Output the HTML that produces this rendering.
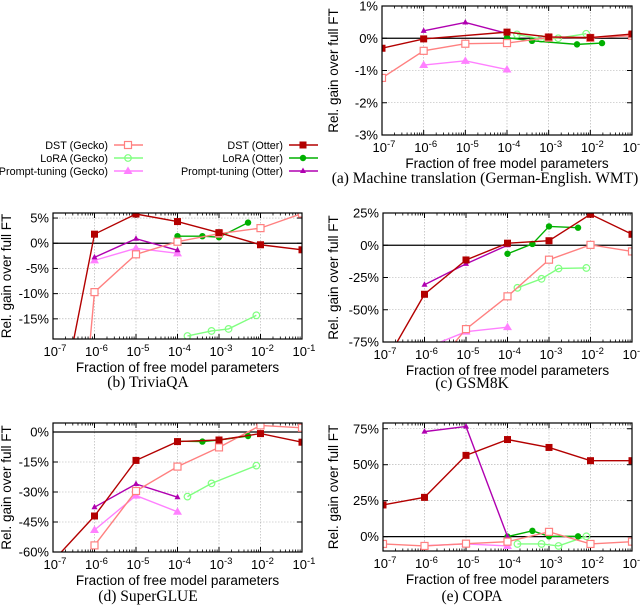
<!DOCTYPE html>
<html><head><meta charset="utf-8"><style>
body{margin:0;background:#fff;width:640px;height:610px;overflow:hidden}
svg{display:block}
text{font-family:"Liberation Sans",sans-serif}
.cap{font-family:"Liberation Serif",serif;font-size:15.5px}
</style></head><body>
<svg id="chart" width="640" height="610" viewBox="0 0 640 610" xmlns="http://www.w3.org/2000/svg">
<g id="legend"></g>
</svg>
<script>
// shared x positions (log10 of fraction)
const xDecades = [-7,-6,-5,-4,-3,-2,-1];
const xDst = [-7,-6,-5,-4,-3,-2,-1];
const xPrompt = [-6,-5,-4];
const xLoraGecko = [-3.76,-3.18,-2.77,-2.1];
const xLoraOtter = [-4,-3.4,-3,-2.3];
const xLoraOtterA = [-4,-3.4,-2.32,-1.72];

// (a) Machine translation
const aTicks = [1,0,-1,-2,-3];
const aDstOtter = [-0.31,-0.02,null,0.19,0.04,0.02,0.13];
const aDstGecko = [-1.23,-0.39,-0.17,-0.15,0.02,0.01,0.08];
const aLoraGecko = [0.12,-0.02,0.0,0.14];
const aLoraOtter = [0.02,-0.08,-0.19,-0.15];
const aPromptOtter = [0.23,0.49,0.15];
const aPromptGecko = [-0.83,-0.70,-0.97];

// (b) TriviaQA
const bTicks = [5,0,-5,-10,-15];
const bDstOtter = [-40,1.8,5.8,4.3,2.1,-0.3,-1.3];
const bDstGecko = [-100,-9.7,-2.2,0.3,1.9,3.0,5.9];
const bLoraOtter = [1.4,1.4,1.2,4.1];
const bLoraGecko = [-18.4,-17.4,-17.0,-14.3];
const bPromptOtter = [-2.8,0.9,-1.4];
const bPromptGecko = [-3.4,-1.0,-2.0];

// (c) GSM8K
const cTicks = [25,0,-25,-50,-75];
const cDstOtter = [-94,-38,-11.4,1.6,3.5,24,8.5];
const cDstGecko = [null,-103,-65,-39.6,-11.2,0.3,-4.8];
const cLoraOtter = [-6.6,1,14.6,13.6];
const cLoraGecko = [-33,-26,-18,-17.6];
const cPromptOtter = [-30.6,-14.4,0];
const cPromptGecko = [-80,-67,-63.5];

// (d) SuperGLUE
const dTicks = [0,-15,-30,-45,-60];
const dDstOtter = [-64.5,-42,-14.2,-4.8,-4.0,-0.8,-5.1];
const dDstGecko = [null,-56.7,-29.5,-17.3,-7.7,3.3,2.1];
const dLoraOtter = [-4.6,-4.8,-4.0,-2];
const dLoraGecko = [-32.3,-25.7,null,-16.8];
const dPromptOtter = [-37.6,-26,-32.6];
const dPromptGecko = [-49,-31.8,-39.9];

// (e) COPA
const eTicks = [75,50,25,0];
const eDstOtter = [22,27.3,56.5,67.5,62,52.8,52.8];
const eDstGecko = [-5.1,-6.5,-4.9,-3.5,3.3,-5.1,-3.5];
const eLoraOtter = [0,4,0.2,0.2];
const eLoraGecko = [-5.1,-5.1,-6.5,0.2];
const ePromptOtter = [73,76.6,0];
const ePromptGecko = [-6.3,-5.1,-6.5];

const NS="http://www.w3.org/2000/svg";
const svg=document.getElementById('chart');
function mk(tag,attrs,parent){const e=document.createElementNS(NS,tag);for(const k in attrs)e.setAttribute(k,attrs[k]);(parent||svg).appendChild(e);return e;}

const C={dstO:'#b30000',dstG:'#ff8080',loO:'#00b000',loG:'#80ff80',prO:'#b000b0',prG:'#ff80ff'};

function marker(g,kind,x,y,color){
  let e;
  if(kind==='sqF'){e=mk('rect',{x:x-3.5,y:y-3.5,width:7,height:7,fill:color},g);}
  else if(kind==='sqO'){e=mk('rect',{x:x-3.5,y:y-3.5,width:7,height:7,fill:'#fff',stroke:color,'stroke-width':1.2},g);}
  else if(kind==='ciF'){e=mk('circle',{cx:x,cy:y,r:3.2,fill:color},g);}
  else if(kind==='ciO'){e=mk('circle',{cx:x,cy:y,r:3.3,fill:'none',stroke:color,'stroke-width':1.2},g);}
  else if(kind==='trF'){e=mk('polygon',{points:`${x},${y-3.5} ${x-3},${y+2} ${x+3},${y+2}`,fill:color},g);}
  else {e=mk('polygon',{points:`${x},${y-4.5} ${x-4.5},${y+3} ${x+4.5},${y+3}`,fill:color},g);}
  
  
}

let pid=0;
function panel(p){
  pid++;
  const g=mk('g',{});
  
  
  const {x0,x1,y0,y1,ymin,ymax}=p;
  const X=v=>x0+(v-(-7))/6*(x1-x0);
  const Y=v=>y1-(v-ymin)/(ymax-ymin)*(y1-y0);
  xDecades.forEach(d=>{
    if(d>-7&&d<-1){const l=mk('line',{x1:X(d),x2:X(d),y1:y0,y2:y1,stroke:'#aaa','stroke-width':0.6,'stroke-dasharray':'1.5,1.5'},g);
    }
  });
  p.ticks.forEach(t=>{
    const yy=Y(t);
    if(t!==0&&yy>y0+1&&yy<y1-1){const l=mk('line',{x1:x0,x2:x1,y1:yy,y2:yy,stroke:'#aaa','stroke-width':0.6,'stroke-dasharray':'1.5,1.5'},g);
    }
    mk('line',{x1:x0,x2:x0+5,y1:yy,y2:yy,stroke:'#000','stroke-width':1},g);
    mk('line',{x1:x1,x2:x1-5,y1:yy,y2:yy,stroke:'#000','stroke-width':1},g);
    const tx=mk('text',{x:x0-4,y:yy+4.5,'font-size':13,'text-anchor':'end'},g);
    tx.textContent=t+'%';
    
  });
  xDecades.forEach(d=>{
    mk('line',{x1:X(d),x2:X(d),y1:y1,y2:y1-5,stroke:'#000','stroke-width':1},g);
    mk('line',{x1:X(d),x2:X(d),y1:y0,y2:y0+5,stroke:'#000','stroke-width':1},g);
    if(d<-1){for(let k=2;k<10;k++){const xm=X(d+Math.log10(k));
      mk('line',{x1:xm,x2:xm,y1:y1,y2:y1-2.5,stroke:'#000','stroke-width':0.8},g);
      mk('line',{x1:xm,x2:xm,y1:y0,y2:y0+2.5,stroke:'#000','stroke-width':0.8},g);}}
    const tx=mk('text',{x:X(d)+2,y:y1+17,'font-size':13,'text-anchor':'middle'},g);
    tx.innerHTML='10<tspan dy="-5" font-size="9.5">'+d+'</tspan>';
    
  });
  const z=mk('line',{x1:x0,x2:x1,y1:Y(0),y2:Y(0),stroke:'#000','stroke-width':1.2},g);
  
  const defs=mk('defs',{},g);
  const cp=mk('clipPath',{id:'cp'+pid},defs);
  mk('rect',{x:x0,y:y0,width:x1-x0,height:y1-y0},cp);
  const sg=mk('g',{'clip-path':`url(#cp${pid})`},g);
  
  const series=[
    [xLoraGecko,p.loG,C.loG,'ciO','lora-gecko'],
    [p.xLoO||xLoraOtter,p.loO,C.loO,'ciF','lora-otter'],
    [xPrompt,p.prG,C.prG,'trO','prompt-tuning-gecko'],
    [xPrompt,p.prO,C.prO,'trF','prompt-tuning-otter'],
    [xDst,p.dstG,C.dstG,'sqO','dst-gecko'],
    [xDst,p.dstO,C.dstO,'sqF','dst-otter'],
  ];
  series.forEach(([xs,ys,col,mkind,nm])=>{
    const s=mk('g',{},sg);
    
    const pts=[];xs.forEach((xv,i)=>{if(ys[i]!==null&&ys[i]!==undefined)pts.push([X(xv),Y(ys[i])]);});
    const pl=mk('polyline',{points:pts.map(q=>q.join(',')).join(' '),fill:'none',stroke:col,'stroke-width':1.4},s);
    
    pts.forEach(q=>marker(s,mkind,q[0],q[1],col));
  });
  const fr=mk('rect',{x:x0,y:y0,width:x1-x0,height:y1-y0,fill:'none',stroke:'#000','stroke-width':1.2},g);
  
  const yl=mk('text',{x:0,y:0,'font-size':13.5,'text-anchor':'middle',transform:`translate(${p.ylx},${(y0+y1)/2}) rotate(-90)`},g);
  yl.textContent='Rel. gain over full FT';
  
  const xl=mk('text',{x:(x0+x1)/2,y:y1+33,'font-size':13.5,'text-anchor':'middle'},g);
  xl.textContent='Fraction of free model parameters';
  
  const cap=mk('text',{x:p.capx,y:y1+p.capdy,'text-anchor':'middle','class':'cap'},g);
  cap.textContent=p.caption;
  
}

panel({name:'panel-machine-translation',x0:382,x1:632,y0:6,y1:135,ymin:-3,ymax:1,ticks:aTicks,
  dstO:aDstOtter,dstG:aDstGecko,loG:aLoraGecko,loO:aLoraOtter,xLoO:xLoraOtterA,prO:aPromptOtter,prG:aPromptGecko,
  ylx:338,capx:485,capdy:48,caption:'(a) Machine translation (German-English. WMT)'});
panel({name:'panel-triviaqa',x0:53,x1:302,y0:213,y1:339,ymin:-19,ymax:6,ticks:bTicks,
  dstO:bDstOtter,dstG:bDstGecko,loG:bLoraGecko,loO:bLoraOtter,prO:bPromptOtter,prG:bPromptGecko,
  ylx:11,capx:148,capdy:48,caption:'(b) TriviaQA'});
panel({name:'panel-gsm8k',x0:383,x1:632,y0:213,y1:342,ymin:-75,ymax:25,ticks:cTicks,
  dstO:cDstOtter,dstG:cDstGecko,loG:cLoraGecko,loO:cLoraOtter,prO:cPromptOtter,prG:cPromptGecko,
  ylx:338,capx:472,capdy:46,caption:'(c) GSM8K'});
panel({name:'panel-superglue',x0:53,x1:302,y0:423,y1:552,ymin:-60,ymax:4.5,ticks:dTicks,
  dstO:dDstOtter,dstG:dDstGecko,loG:dLoraGecko,loO:dLoraOtter,prO:dPromptOtter,prG:dPromptGecko,
  ylx:11,capx:148,capdy:49,caption:'(d) SuperGLUE'});
panel({name:'panel-copa',x0:383,x1:632,y0:423,y1:551,ymin:-10,ymax:79,ticks:eTicks,
  dstO:eDstOtter,dstG:eDstGecko,loG:eLoraGecko,loO:eLoraOtter,prO:ePromptOtter,prG:ePromptGecko,
  ylx:338,capx:472,capdy:50,caption:'(e) COPA'});

const lg=document.getElementById('legend');
const legendItems=[
  ['DST (Gecko)',C.dstG,'sqO',108,145],['LoRA (Gecko)',C.loG,'ciO',108,158],['Prompt-tuning (Gecko)',C.prG,'trO',108,171],
  ['DST (Otter)',C.dstO,'sqF',283,145],['LoRA (Otter)',C.loO,'ciF',283,158],['Prompt-tuning (Otter)',C.prO,'trF',283,171]];
legendItems.forEach(([lab,col,k,x,y])=>{
  const g=mk('g',{},lg);
  
  
  const t=mk('text',{x:x,y:y+4,'font-size':10.8,'text-anchor':'end'},g);t.textContent=lab;
  mk('line',{x1:x+6,x2:x+35,y1:y,y2:y,stroke:col,'stroke-width':1.4},g);
  marker(g,k,x+20,y,col);
});
</script>
</body></html>
